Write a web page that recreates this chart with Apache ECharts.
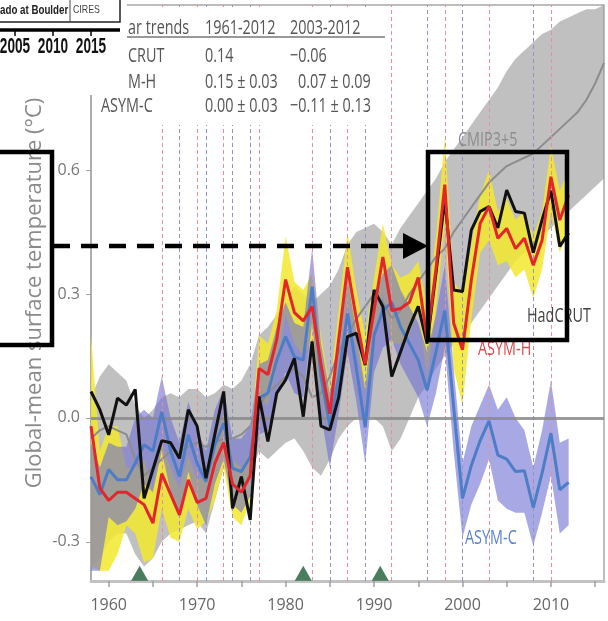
<!DOCTYPE html>
<html><head><meta charset="utf-8">
<script src="https://cdn.jsdelivr.net/npm/echarts@6/dist/echarts.min.js"></script>
<style>html,body{margin:0;padding:0;background:#fff}#c{width:608px;height:621px}</style>
</head><body><div id="c"></div>
<script>
// ---------------- data ----------------
const startYear = 1958;           // first year of every annual series
const cmipStartYear = 1958;
// HadCRUT observed anomaly (°C), 1958-2012
const hadcrut = [0.064,0.02,-0.041,0.048,0.031,0.069,-0.195,-0.125,-0.055,-0.06,
  -0.098,0.02,-0.02,-0.146,-0.04,0.064,-0.219,-0.142,-0.247,0.052,
  -0.057,0.06,0.092,0.144,0.003,0.185,-0.02,-0.029,0.05,0.197,
  0.205,0.128,0.31,0.27,0.10,0.16,0.22,0.27,0.18,0.35,
  0.53,0.31,0.306,0.455,0.50,0.512,0.46,0.552,0.50,0.496,
  0.40,0.48,0.55,0.415,0.448];
// ASYM-H ensemble mean and spread, 1958-2012
const asymH = [-0.02,-0.17,-0.20,-0.18,-0.18,-0.195,-0.21,-0.255,-0.135,-0.185,
  -0.235,-0.15,-0.205,-0.195,-0.11,-0.06,-0.16,-0.18,-0.14,0.12,
  0.105,0.19,0.335,0.255,0.235,0.27,0.13,0.01,0.19,0.365,
  0.24,0.13,0.26,0.39,0.26,0.265,0.28,0.34,0.19,0.36,
  0.565,0.23,0.165,0.334,0.471,0.512,0.435,0.459,0.41,0.435,
  0.37,0.43,0.584,0.479,0.54];
const asymHLow = [-0.36,-0.37,-0.37,-0.33,-0.26,-0.28,-0.35,-0.34,-0.22,-0.29,
  -0.30,-0.22,-0.27,-0.25,-0.20,-0.12,-0.24,-0.26,-0.20,0.05,
  0.03,0.12,0.25,0.18,0.15,0.19,0.05,-0.05,0.12,0.28,
  0.17,0.06,0.18,0.30,0.18,0.18,0.20,0.26,0.10,0.26,
  0.47,0.12,0.03,0.24,0.40,0.43,0.37,0.38,0.34,0.36,
  0.29,0.36,0.50,0.40,0.46];
const asymHHigh = [0.20,-0.08,-0.02,-0.02,-0.12,-0.12,-0.10,-0.17,-0.06,-0.12,
  -0.17,-0.09,-0.15,-0.14,-0.05,0.01,-0.10,-0.12,-0.08,0.20,
  0.18,0.26,0.44,0.33,0.31,0.35,0.20,0.07,0.26,0.45,
  0.31,0.20,0.34,0.47,0.37,0.34,0.35,0.38,0.27,0.44,
  0.68,0.33,0.30,0.42,0.54,0.60,0.50,0.53,0.48,0.50,
  0.44,0.50,0.66,0.55,0.60];
// ASYM-C ensemble mean and spread, 1958-2012
const asymC = [-0.142,-0.186,-0.125,-0.15,-0.15,-0.11,-0.065,-0.08,0.015,-0.08,
  -0.142,-0.041,-0.11,-0.154,-0.065,-0.013,-0.122,-0.13,-0.094,0.048,
  0.06,0.14,0.197,0.148,0.14,0.318,0.10,-0.021,0.10,0.253,
  0.12,-0.023,0.20,0.26,0.28,0.22,0.18,0.14,0.067,0.16,
  0.26,0.027,-0.195,-0.115,-0.055,-0.007,-0.09,-0.10,-0.13,-0.128,
  -0.217,-0.134,-0.037,-0.174,-0.156];
const asymCLow = [-0.37,-0.37,-0.24,-0.26,-0.25,-0.22,-0.16,-0.18,-0.08,-0.18,
  -0.24,-0.13,-0.21,-0.26,-0.16,-0.10,-0.21,-0.23,-0.19,-0.04,
  -0.03,0.06,0.11,0.06,0.05,0.23,0.01,-0.12,0.01,0.16,
  0.04,-0.11,0.11,0.17,0.19,0.13,0.09,0.05,-0.02,0.06,
  0.17,-0.08,-0.29,-0.21,-0.16,-0.10,-0.20,-0.22,-0.23,-0.23,
  -0.31,-0.23,-0.14,-0.28,-0.26];
const asymCHigh = [-0.06,-0.12,-0.06,-0.07,-0.07,0.00,0.02,0.00,0.10,0.00,
  -0.06,0.04,-0.03,-0.08,0.02,0.07,-0.05,-0.05,-0.02,0.13,
  0.14,0.22,0.28,0.23,0.22,0.41,0.18,0.06,0.18,0.34,
  0.21,0.07,0.29,0.35,0.37,0.31,0.27,0.23,0.16,0.25,
  0.37,0.12,-0.11,-0.02,0.03,0.08,0.02,0.05,0.00,-0.03,
  -0.12,-0.03,0.09,-0.06,-0.05];
// CMIP3+5 multi-model mean and range, 1958-2016
const cmipMean = [-0.05,-0.03,-0.02,-0.03,-0.04,-0.10,-0.14,-0.12,-0.10,-0.08,
  -0.08,-0.07,-0.06,-0.07,-0.06,-0.05,-0.05,-0.04,-0.02,0.03,
  0.06,0.08,0.10,0.12,0.10,0.05,0.06,0.10,0.16,0.20,
  0.24,0.27,0.30,0.28,0.24,0.26,0.30,0.33,0.36,0.39,
  0.41,0.45,0.48,0.51,0.54,0.57,0.59,0.61,0.62,0.63,
  0.64,0.66,0.68,0.70,0.72,0.74,0.77,0.81,0.86];
const cmipLow = [-0.36,-0.34,-0.30,-0.28,-0.28,-0.33,-0.36,-0.34,-0.30,-0.28,
  -0.27,-0.26,-0.25,-0.28,-0.20,-0.12,-0.16,-0.16,-0.14,-0.08,
  -0.10,-0.08,-0.06,-0.05,-0.08,-0.12,-0.14,-0.10,-0.05,-0.02,
  0.00,0.00,0.00,-0.02,-0.08,-0.05,0.00,0.05,0.08,0.12,
  0.15,0.18,0.20,0.23,0.26,0.29,0.32,0.35,0.38,0.40,
  0.42,0.44,0.46,0.48,0.50,0.52,0.54,0.56,0.58];
const cmipHigh = [0.05,0.10,0.13,0.11,0.09,0.03,0.00,0.02,0.05,0.06,
  0.05,0.07,0.07,0.05,0.06,0.08,0.07,0.09,0.13,0.20,
  0.22,0.25,0.28,0.32,0.30,0.28,0.30,0.32,0.36,0.42,
  0.45,0.46,0.47,0.45,0.42,0.46,0.49,0.52,0.55,0.58,
  0.62,0.65,0.68,0.71,0.74,0.77,0.80,0.84,0.87,0.89,
  0.91,0.93,0.94,0.96,0.97,0.98,0.99,0.99,1.00];
// event years
const elNinoYears = [1966,1970,1973,1977,1983,1987,1992,1998,2003,2010];
const laNinaYears = [1968,1971,1974,1976,1985,1989,1996,2000,2008];
const volcanoYears = [1963.5,1982.0,1990.7];
const volcanoLevel = -0.376;
// axes
const xTickValues = [1960,1965,1970,1975,1980,1985,1990,1995,2000,2005,2010,2015];
const xLabelValues = [1960,1970,1980,1990,2000,2010];
const yTickValues = [-0.3,0,0.3,0.6];
const yAxisTitle = 'Global-mean surface temperature (°C)';
// trend table (left part hidden under the inset)
const trendHeader = ['ar trends','1961-2012','2003-2012'];
const trendRows = [['CRUT','0.14','−0.06'],['M-H','0.15 ± 0.03','0.07 ± 0.09'],['ASYM-C','0.00 ± 0.03','−0.11 ± 0.13']];
const insetYearLabels = ['2005','2010','2015'];
const seriesLabels = {cmip:'CMIP3+5', had:'HadCRUT', asymH:'ASYM-H', asymC:'ASYM-C'};

// ---------------- build ----------------
const pairs = (arr, s) => arr.map((v, i) => [s + i, v]);
function bandSeries(name, low, high, s, color, z) {
  return {type:'custom', name, silent:true, z,
    data: low.map((l, i) => [s + i, l, high[i]]),
    encode:{x:0, y:[1,2]},
    renderItem: (params, api) => {
      if (params.dataIndex !== 0) return null;
      const pts = [];
      for (let i = 0; i < low.length; i++) pts.push(api.coord([s + i, low[i]]));
      for (let i = high.length - 1; i >= 0; i--) pts.push(api.coord([s + i, high[i]]));
      return {type:'polygon', shape:{points:pts}, style:{fill:color}};
    }};
}
const dash = [4,3];
const vLines = elNinoYears.map(y => ({xAxis:y, lineStyle:{color:'#e6909c', width:1, type:dash}}))
  .concat(laNinaYears.map(y => ({xAxis:y, lineStyle:{color:'#8e94c4', width:1, type:dash}})))
  .concat([{yAxis:0, lineStyle:{color:'#8a8a8a', width:3, type:'solid', opacity:0.85}}]);

const font = '"Open Sans", "DejaVu Sans", sans-serif';
function txt(x, y, text, fill, opts) {
  opts = opts || {};
  return {type:'text', x, y, z:100, silent:true, scaleX: opts.sx == null ? 0.72 : opts.sx, rotation: opts.rot || 0,
    style:{text, fill, fontSize: opts.fs || 20, fontFamily: opts.ff || font, fontWeight: opts.fw || 'normal',
      align: opts.align || 'left', verticalAlign:'middle'}};
}
const tableCols = [128, 205, 290];
const graphicEls = [];
graphicEls.push({type:'rect', z:99, silent:true, shape:{x:92, y:7, width:296, height:118}, style:{fill:'#fff'}});
graphicEls.push({type:'rect', z:99, silent:true, shape:{x:0, y:0, width:127, height:95}, style:{fill:'#fff'}});
graphicEls.push({type:'rect', z:100, silent:true, shape:{x:-3, y:-10, width:123, height:32}, style:{fill:'none', stroke:'#222', lineWidth:1.5}});
graphicEls.push({type:'line', z:100, silent:true, shape:{x1:70, y1:0, x2:70, y2:22}, style:{stroke:'#444', lineWidth:1}});
graphicEls.push(txt(0, 10, 'ado at Boulder', '#222', {fs:13, fw:'bold', sx:0.75, ff:'"Liberation Sans", sans-serif'}));
graphicEls.push(txt(73, 10, 'CIRES', '#444', {fs:11, sx:0.8, ff:'"Liberation Sans", sans-serif'}));
graphicEls.push({type:'line', z:100, silent:true, shape:{x1:0, y1:30, x2:120, y2:30}, style:{stroke:'#000', lineWidth:3.5}});
[15,53,91].forEach((x, i) => {
  graphicEls.push({type:'line', z:100, silent:true, shape:{x1:x, y1:31, x2:x, y2:36}, style:{stroke:'#000', lineWidth:1.5}});
  graphicEls.push(txt(x, 47, insetYearLabels[i], '#111', {fs:22, fw:'bold', sx:0.62, align:'center', ff:'"Liberation Sans", sans-serif'}));
});
trendHeader.forEach((t, i) => graphicEls.push(txt(tableCols[i], 28, t, '#555')));
graphicEls.push({type:'line', z:100, silent:true, shape:{x1:127, y1:37, x2:385, y2:37}, style:{stroke:'#777', lineWidth:1.5}});
const rowY = [56, 82, 106];
trendRows.forEach((r, j) => {
  graphicEls.push(txt(j === 2 ? 101 : 128, rowY[j], r[0], '#555'));
  graphicEls.push(txt(205, rowY[j], r[1], '#555'));
  graphicEls.push(txt(j === 1 ? 298 : 290, rowY[j], r[2], '#555'));
});
graphicEls.push(txt(458, 140, seriesLabels.cmip, '#8c8c8c'));
graphicEls.push(txt(527, 316, seriesLabels.had, '#444'));
graphicEls.push(txt(478, 349, seriesLabels.asymH, '#e0484d'));
graphicEls.push(txt(465, 538, seriesLabels.asymC, '#5a84c8'));
graphicEls.push(txt(35, 293, yAxisTitle, '#8a8a8a', {sx:1, rot:Math.PI/2, align:'center', fs:22}));
graphicEls.push({type:'rect', z:101, silent:true, shape:{x:-5, y:152, width:57, height:193}, style:{fill:'none', stroke:'#000', lineWidth:4.5}});
graphicEls.push({type:'rect', z:101, silent:true, shape:{x:428, y:152, width:139, height:188}, style:{fill:'none', stroke:'#000', lineWidth:4.5}});
graphicEls.push({type:'line', z:101, silent:true, shape:{x1:53, y1:246, x2:404, y2:246}, style:{stroke:'#000', lineWidth:4.5, lineDash:[17,11]}});
graphicEls.push({type:'polygon', z:101, silent:true, shape:{points:[[403,233],[428,246],[403,259]]}, style:{fill:'#000'}});

const series = [
  bandSeries('CMIP3+5 range', cmipLow, cmipHigh, cmipStartYear, 'rgba(150,150,150,0.6)', 2),
  bandSeries('ASYM-H range', asymHLow, asymHHigh, startYear, 'rgba(242,232,45,0.85)', 2),
  bandSeries('ASYM-C range', asymCLow, asymCHigh, startYear, 'rgba(110,110,210,0.6)', 2),
  {type:'line', name:'CMIP3+5', data:pairs(cmipMean, cmipStartYear), symbol:'none',
   lineStyle:{color:'#8c8c8c', width:2}, z:3,
   markLine:{silent:true, symbol:['none','none'], label:{show:false}, data:vLines, z:5, animation:false}},
  {type:'line', name:'ASYM-C', data:pairs(asymC, startYear), symbol:'none', lineStyle:{color:'#4d7dc6', width:3}, z:6},
  {type:'line', name:'HadCRUT', data:pairs(hadcrut, startYear), symbol:'none', lineStyle:{color:'#111', width:3}, z:7},
  {type:'line', name:'ASYM-H', data:pairs(asymH, startYear), symbol:'none', lineStyle:{color:'#e4252b', width:3}, z:7},
  {type:'scatter', name:'volcanoes', data:volcanoYears.map(y => [y, volcanoLevel]), symbol:'triangle',
   symbolSize:[17,15], itemStyle:{color:'#1c5c36'}, z:9}
];

const chart = echarts.init(document.getElementById('c'), null, {renderer:'canvas'});
chart.setOption({
  animation:false,
  backgroundColor:'#fff',
  grid:{left:91, right:4, top:5, bottom:40, show:true, borderColor:'#a8a8a8', borderWidth:1.5},
  xAxis:{type:'value', min:1958, max:2016,
    axisLine:{onZero:false, lineStyle:{color:'#c2c2c2', width:3}},
    axisTick:{show:true, customValues:xTickValues, length:6, lineStyle:{color:'#a0a0a0', width:1.5}},
    axisLabel:{customValues:xLabelValues, formatter:v => String(v), color:'#666', fontSize:16, fontFamily:font, margin:16},
    splitLine:{show:false}},
  yAxis:{type:'value', min:-0.395, max:1.0,
    axisLine:{show:true, onZero:false, lineStyle:{color:'#aaa', width:1.5}},
    axisTick:{show:true, customValues:yTickValues, length:5, lineStyle:{color:'#a0a0a0'}},
    axisLabel:{customValues:yTickValues, formatter:v => v.toFixed(1), color:'#777', fontSize:16, fontFamily:font, margin:11},
    splitLine:{show:false}},
  series,
  graphic:{elements:graphicEls}
});
</script></body></html>
